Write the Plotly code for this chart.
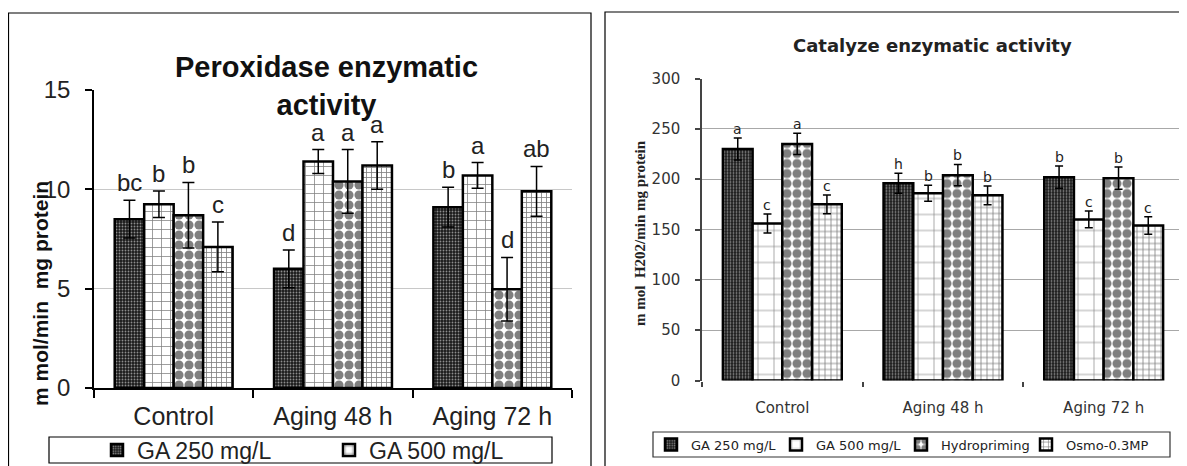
import plotly.graph_objects as go

W, H = 1187, 466
OFF = 8  # page body margin that precedes the plot
FW, FH = W - OFF, H - OFF

categories = ["Control", "Aging 48 h", "Aging 72 h"]
treatments = ["GA 250 mg/L", "GA 500 mg/L", "Hydropriming", "Osmo-0.3MP"]

# Peroxidase enzymatic activity (m mol/min mg protein)
pod_ga250 = [8.5, 6.0, 9.1]
pod_ga500 = [9.25, 11.4, 10.7]
pod_hydro = [8.7, 10.4, 4.97]
pod_osmo = [7.1, 11.2, 9.9]
pod_err_ga250 = [0.95, 0.95, 1.0]
pod_err_ga500 = [0.67, 0.6, 0.65]
pod_err_hydro = [1.65, 1.6, 1.6]
pod_err_osmo = [1.25, 1.2, 1.25]
pod_let_ga250 = ["bc", "d", "b"]
pod_let_ga500 = ["b", "a", "a"]
pod_let_hydro = ["b", "a", "d"]
pod_let_osmo = ["c", "a", "ab"]

# Catalyze enzymatic activity (m mol H2O2/min mg protein)
cat_ga250 = [230, 196, 202]
cat_ga500 = [156, 186, 160]
cat_hydro = [235, 204, 201]
cat_osmo = [175, 184, 154]
cat_err_ga250 = [11, 10, 11]
cat_err_ga500 = [9.5, 8, 8.3]
cat_err_hydro = [10.6, 10.6, 11]
cat_err_osmo = [9.3, 9.3, 8.6]
cat_let_ga250 = ["a", "h", "b"]
cat_let_ga500 = ["c", "b", "c"]
cat_let_hydro = ["a", "b", "b"]
cat_let_osmo = ["c", "b", "c"]

pod_vals = [pod_ga250, pod_ga500, pod_hydro, pod_osmo]
pod_errs = [pod_err_ga250, pod_err_ga500, pod_err_hydro, pod_err_osmo]
pod_lets = [pod_let_ga250, pod_let_ga500, pod_let_hydro, pod_let_osmo]
cat_vals = [cat_ga250, cat_ga500, cat_hydro, cat_osmo]
cat_errs = [cat_err_ga250, cat_err_ga500, cat_err_hydro, cat_err_osmo]
cat_lets = [cat_let_ga250, cat_let_ga500, cat_let_hydro, cat_let_osmo]


def fx(p):
    return (p - OFF) / FW


def fy(p):
    return 1 - (p - OFF) / FH


BARGAP = 0.26
L_X0, L_X1, L_Y0, L_Y1 = 94, 572, 388, 90
R_X0, R_X1, R_Y0, R_Y1 = 702, 1184, 380.5, 78.5

LFONT = "Arial, Liberation Sans, sans-serif"
RFONT = "DejaVu Sans, Verdana, sans-serif"

dark = dict(shape=".", size=3, solidity=0.3, fgcolor="white", bgcolor="#1a1a1a")
left_patterns = [
    dark,
    dict(shape="+", size=9, solidity=0.16, fgcolor="black", bgcolor="white"),
    dict(shape=".", size=10, solidity=0.65, fgcolor="black", bgcolor="white"),
    dict(shape="+", size=5, solidity=0.3, fgcolor="black", bgcolor="white"),
]
right_patterns = [
    dark,
    dict(shape="+", size=16, solidity=0.08, fgcolor="black", bgcolor="white"),
    dict(shape=".", size=10, solidity=0.65, fgcolor="black", bgcolor="white"),
    dict(shape="+", size=6, solidity=0.25, fgcolor="black", bgcolor="white"),
]

fig = go.Figure()

for i, name in enumerate(treatments):
    fig.add_trace(go.Bar(
        x=categories, y=pod_vals[i], name=name,
        error_y=dict(type="data", array=pod_errs[i], color="black", thickness=1.5, width=6),
        marker=dict(color="white", pattern=left_patterns[i], line=dict(color="black", width=2.5)),
        xaxis="x", yaxis="y", legend="legend", showlegend=(i < 2),
    ))

for i, name in enumerate(treatments):
    fig.add_trace(go.Bar(
        x=categories, y=cat_vals[i], name=name,
        error_y=dict(type="data", array=cat_errs[i], color="black", thickness=1.5, width=4),
        marker=dict(color="white", pattern=right_patterns[i], line=dict(color="black", width=2.5)),
        xaxis="x2", yaxis="y2", legend="legend2", showlegend=True,
    ))

annotations = []


def add_letters(vals, errs, lets, xref, yref, x0, x1, size, family, yshift):
    cw = (x1 - x0) / len(categories)
    bw = cw * (1 - BARGAP) / len(vals)
    for i in range(len(vals)):
        off = (i - (len(vals) - 1) / 2) * bw
        for j, c in enumerate(categories):
            annotations.append(dict(
                x=c, y=vals[i][j] + errs[i][j], xref=xref, yref=yref,
                text=lets[i][j], showarrow=False, xshift=off, yshift=yshift,
                xanchor="center", yanchor="bottom",
                font=dict(size=size, family=family, color="#222"),
            ))


add_letters(pod_vals, pod_errs, pod_lets, "x", "y", L_X0, L_X1, 24, LFONT, 2)
add_letters(cat_vals, cat_errs, cat_lets, "x2", "y2", R_X0, R_X1, 14, RFONT, -1)

# titles
annotations.append(dict(
    x=fx(327), y=fy(86), xref="paper", yref="paper", showarrow=False,
    xanchor="center", yanchor="middle",
    text="<b>Peroxidase enzymatic<br>activity</b>", align="center",
    font=dict(size=29, family=LFONT, color="#111"),
))
annotations.append(dict(
    x=fx(932), y=fy(45), xref="paper", yref="paper", showarrow=False,
    xanchor="center", yanchor="middle",
    text="<b>Catalyze enzymatic activity</b>",
    font=dict(size=18, family=RFONT, color="#222"),
))
# y-axis titles
annotations.append(dict(
    x=fx(40), y=fy(294), xref="paper", yref="paper", showarrow=False,
    xanchor="center", yanchor="middle",
    text="<b>m mol/min  mg protein</b>", textangle=-90,
    font=dict(size=21, family=LFONT, color="#111"),
))
annotations.append(dict(
    x=fx(640), y=fy(233), xref="paper", yref="paper", showarrow=False,
    xanchor="center", yanchor="middle",
    text="<b>m mol  H202/min mg protein</b>", textangle=-90,
    font=dict(size=15, family="Liberation Serif, Times New Roman, serif", color="#222"),
))

shapes = [
    dict(type="rect", xref="paper", yref="paper", x0=fx(8.5), x1=fx(591), y0=fy(475), y1=fy(13),
         line=dict(color="black", width=1.2)),
    dict(type="rect", xref="paper", yref="paper", x0=fx(605), x1=fx(1195), y0=fy(475), y1=fy(12),
         line=dict(color="black", width=1.2)),
    dict(type="rect", xref="paper", yref="paper", x0=fx(49), x1=fx(552), y0=fy(463), y1=fy(437),
         line=dict(color="black", width=1.2)),
    dict(type="rect", xref="paper", yref="paper", x0=fx(653), x1=fx(1170), y0=fy(457), y1=fy(432),
         line=dict(color="#333", width=1.2)),
]

fig.update_layout(
    width=FW, height=FH,
    margin=dict(l=0, r=0, t=0, b=0, autoexpand=False),
    paper_bgcolor="white", plot_bgcolor="white",
    barmode="group", bargap=BARGAP, bargroupgap=0,
    annotations=annotations, shapes=shapes,
    xaxis=dict(
        domain=[fx(L_X0), fx(L_X1)], anchor="y",
        showline=True, linecolor="black", linewidth=1.5,
        ticks="outside", ticklen=8, tickcolor="black", tickwidth=1.5, tickson="boundaries",
        showgrid=False, ticklabelstandoff=5,
        tickfont=dict(size=25, family=LFONT, color="#222"),
    ),
    yaxis=dict(
        domain=[fy(L_Y0), fy(L_Y1)], anchor="x", range=[0, 15], dtick=5,
        showline=True, linecolor="black", linewidth=1.5,
        ticks="outside", ticklen=7, tickcolor="black", tickwidth=1.5,
        gridcolor="#c8c8c8", gridwidth=1, zeroline=False, ticklabelstandoff=10,
        tickfont=dict(size=24, family=LFONT, color="#222"),
    ),
    xaxis2=dict(
        domain=[fx(R_X0), fx(R_X1)], anchor="y2",
        showline=False,
        ticks="outside", ticklen=5, tickcolor="#444", tickwidth=1.5, tickson="boundaries",
        showgrid=False, ticklabelstandoff=16,
        tickfont=dict(size=15, family=RFONT, color="#333"),
    ),
    yaxis2=dict(
        domain=[fy(R_Y0), fy(R_Y1)], anchor="x2", range=[0, 300], dtick=50,
        showline=True, linecolor="#444", linewidth=1.5,
        ticks="outside", ticklen=5, tickcolor="#444", tickwidth=1.5,
        gridcolor="#a8a8a8", gridwidth=1, zeroline=False, ticklabelstandoff=12,
        tickfont=dict(size=15, family=RFONT, color="#333"),
    ),
    legend=dict(
        orientation="h", x=fx(97), y=fy(450), xanchor="left", yanchor="middle",
        bgcolor="rgba(0,0,0,0)", borderwidth=0, itemwidth=30,
        entrywidth=187, entrywidthmode="pixels",
        font=dict(size=23, family=LFONT, color="#222"),
    ),
    legend2=dict(
        orientation="h", x=fx(651), y=fy(444.5), xanchor="left", yanchor="middle",
        bgcolor="rgba(0,0,0,0)", borderwidth=0, itemwidth=30,
        entrywidth=80, entrywidthmode="pixels",
        font=dict(size=13, family=RFONT, color="#222"),
    ),
)

fig.write_html("out.html")
